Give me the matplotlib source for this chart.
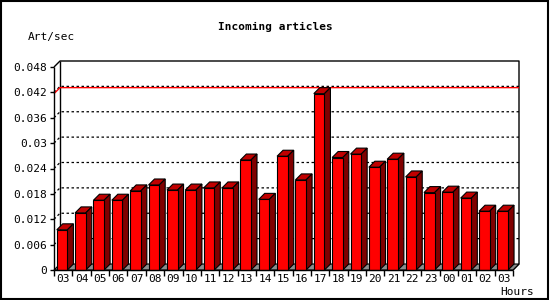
import matplotlib
matplotlib.use("Agg")
import matplotlib.pyplot as plt
from matplotlib.patches import Polygon, Rectangle

# data
hours = ["03", "04", "05", "06", "07", "08", "09", "10", "11", "12", "13", "14",
         "15", "16", "17", "18", "19", "20", "21", "22", "23", "00", "01", "02", "03"]
art_per_sec = [0.0095, 0.0135, 0.0165, 0.0165, 0.0187, 0.0201, 0.0189, 0.0189,
               0.0194, 0.0194, 0.0260, 0.0167, 0.0269, 0.0213, 0.0417, 0.0266,
               0.0274, 0.0243, 0.0262, 0.0220, 0.0183, 0.0184, 0.0170, 0.0139,
               0.0139]
y_ticks = [0, 0.006, 0.012, 0.018, 0.024, 0.03, 0.036, 0.042, 0.048]
y_tick_labels = ["0", "0.006", "0.012", "0.018", "0.024", "0.03", "0.036", "0.042", "0.048"]
max_line = max(art_per_sec)

FRONT = "#ff0000"
TOP = "#c00000"
SIDE = "#800000"
FLOOR = "#8c8c8c"
DEPTH_PX = 6
FONT = "DejaVu Sans Mono"

fig = plt.figure(figsize=(5.5, 3.0), dpi=100)
ax = fig.add_axes([54 / 550, 30 / 300, 459 / 550, 203 / 300])
n = len(hours)
xmin, xmax = -0.5, n - 0.5
ymax = y_ticks[-1]
ax.set_xlim(xmin, xmax)
ax.set_ylim(0, ymax)
for s in ax.spines.values():
    s.set_visible(False)

# depth offset in data units
p0 = ax.transData.transform((0, 0))
dx, dy = ax.transData.inverted().transform(p0 + [DEPTH_PX, DEPTH_PX])


def line(xs, ys, **kw):
    ax.plot(xs, ys, clip_on=False, solid_capstyle="butt", **kw)


# gridlines on the back wall
for yv in y_ticks[1:-1]:
    line([xmin, xmin + dx, xmax + dx], [yv, yv + dy, yv + dy],
         color="black", lw=0.9, ls=(0, (2, 2)), zorder=1)
# max line
line([xmin, xmin + dx, xmax + dx], [max_line, max_line + dy, max_line + dy],
     color="red", lw=1.0, zorder=1.5)

# back wall / frame outline
line([xmin, xmin + dx, xmax + dx, xmax + dx, xmax],
     [ymax, ymax + dy, ymax + dy, dy, 0], color="black", lw=1.0, zorder=1)
line([xmin + dx, xmin + dx], [dy, ymax + dy], color="black", lw=1.0, zorder=1)

# floor
ax.add_patch(Polygon([(xmin, 0), (xmax, 0), (xmax + dx, dy), (xmin + dx, dy)],
                     closed=True, facecolor=FLOOR, edgecolor="black", lw=0.8,
                     clip_on=False, zorder=2))

# bars
bw = 0.58
for i, v in enumerate(art_per_sec):
    x0 = i - 0.35
    x1 = x0 + bw
    ax.add_patch(Polygon([(x0, v), (x1, v), (x1 + dx, v + dy), (x0 + dx, v + dy)],
                         closed=True, facecolor=TOP, edgecolor="black", lw=0.8,
                         clip_on=False, zorder=3))
    ax.add_patch(Polygon([(x1, 0), (x1 + dx, dy), (x1 + dx, v + dy), (x1, v)],
                         closed=True, facecolor=SIDE, edgecolor="black", lw=0.8,
                         clip_on=False, zorder=3))
ax.bar([i - 0.35 for i in range(n)], art_per_sec, width=bw, align="edge",
       color=FRONT, edgecolor="black", lw=0.8, zorder=4, clip_on=False)

# front axes
line([xmin, xmin], [0, ymax], color="black", lw=1.0, zorder=5)
line([xmin, xmax], [0, 0], color="black", lw=1.0, zorder=5)

ax.set_yticks(y_ticks)
ax.set_yticklabels(y_tick_labels, fontfamily=FONT, fontsize=8)
ax.tick_params(axis="y", length=3, width=1, pad=2)
ax.set_xticks([i - 0.5 for i in range(n + 1)])
ax.set_xticklabels([])
ax.set_xticks(range(n), minor=True)
ax.set_xticklabels(hours, minor=True, fontfamily=FONT, fontsize=8)
ax.tick_params(axis="x", which="major", length=4, width=1)
ax.tick_params(axis="x", which="minor", length=0, pad=3)

fig.text(0.5, 1 - 27 / 300, "Incoming articles", ha="center", va="center",
         fontfamily=FONT, fontweight="bold", fontsize=8)
fig.text(28 / 550, 1 - 37 / 300, "Art/sec", ha="left", va="center",
         fontfamily=FONT, fontsize=8)
fig.text(534 / 550, 1 - 292 / 300, "Hours", ha="right", va="center",
         fontfamily=FONT, fontsize=8)

fig.add_artist(Rectangle((0.001, 0.002), 0.996, 0.994, transform=fig.transFigure,
                         fill=False, edgecolor="black", lw=1.5))

fig.savefig("out.png", dpi=100)
